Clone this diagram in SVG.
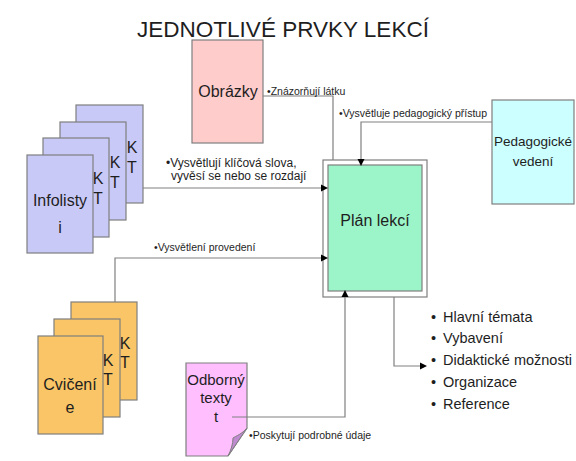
<svg xmlns="http://www.w3.org/2000/svg" width="576" height="461" viewBox="0 0 576 461">
<defs>
<path id="ah" d="M0,0 L-7,-3.5 L-7,3.5 Z" fill="#000"/>
<style>
text{font-family:"Liberation Sans",Arial,sans-serif;fill:#1e1e1e}
.pg{stroke:#7f7f7f;stroke-width:1.2}
.lav{fill:#c9c9f7}
.org{fill:#f9c566}
.big{font-size:16px;text-anchor:middle}
.lbl{font-size:10.5px}
.lbl12{font-size:12px}
.con{fill:none;stroke:#808080;stroke-width:1.2}
.li{font-size:14.5px}
</style>
</defs>
<rect width="576" height="461" fill="#fff"/>
<text x="283" y="37" font-size="22.5" text-anchor="middle">JEDNOTLIVÉ PRVKY LEKCÍ</text>

<g id="obrazky">
<rect x="192" y="40" width="71" height="103" fill="#ffcccc" class="pg"/>
<text class="big" x="228" y="97">Obrázky</text>
</g>

<g id="pedagogicke">
<rect x="492" y="100" width="82" height="104" fill="#ccffff" class="pg"/>
<text x="533" y="146" font-size="13.5" text-anchor="middle">Pedagogické</text>
<text x="533" y="166" font-size="13.5" text-anchor="middle">vedení</text>
</g>

<g id="plan">
<rect x="323" y="160" width="104" height="137" fill="#fff" class="pg"/>
<rect x="328" y="165" width="94" height="126" fill="#9cf5c9" class="pg"/>
<text class="big" x="375" y="226">Plán lekcí</text>
</g>

<g id="infolisty">
<rect x="76" y="105" width="67" height="98" class="pg lav"/>
<text class="big" x="132" y="153">K</text><text class="big" x="132" y="173">T</text>
<rect x="60" y="122" width="66" height="98" class="pg lav"/>
<text class="big" x="115" y="168">K</text><text class="big" x="115" y="188">T</text>
<rect x="43" y="138" width="66" height="99" class="pg lav"/>
<text class="big" x="98" y="184">K</text><text class="big" x="98" y="204">T</text>
<rect x="27" y="155" width="66" height="98" class="pg lav"/>
<text class="big" x="60" y="206">Infolisty</text>
<text class="big" x="60" y="233">i</text>
</g>

<g id="cviceni">
<rect x="71" y="302" width="66" height="98" class="pg org"/>
<text class="big" x="125" y="349">K</text><text class="big" x="125" y="368">T</text>
<rect x="54" y="319" width="66" height="98" class="pg org"/>
<text class="big" x="108" y="366">K</text><text class="big" x="108" y="385">T</text>
<rect x="38" y="336" width="65" height="98" class="pg org"/>
<text class="big" x="70" y="390">Cvičení</text>
<text class="big" x="70" y="413">e</text>
</g>

<g id="odborny">
<path d="M186,363 H247 V428 L228,456 H186 Z" fill="#ffbfff" class="pg"/>
<path d="M247,428 C242,434 236,436 233,438 C233,444 231,450 228,456 Z" fill="#c08ad0" stroke="#7f7f7f" stroke-width="1"/>
<text x="216" y="385" font-size="15" text-anchor="middle">Odborný</text>
<text x="216" y="403" font-size="15" text-anchor="middle">texty</text>
<text x="216" y="422" font-size="15" text-anchor="middle">t</text>
</g>

<g id="seznam">
<text class="li" x="431" y="322">•</text><text class="li" x="443" y="322">Hlavní témata</text>
<text class="li" x="431" y="343">•</text><text class="li" x="443" y="343">Vybavení</text>
<text class="li" x="431" y="365">•</text><text class="li" x="443" y="365">Didaktické možnosti</text>
<text class="li" x="431" y="387">•</text><text class="li" x="443" y="387">Organizace</text>
<text class="li" x="431" y="409">•</text><text class="li" x="443" y="409">Reference</text>
</g>

<g id="connectors">
<path class="con" d="M263,96 H333 V160"/>
<path class="con" d="M492,122 H361 V160"/>
<path class="con" d="M143,188 H322"/>
<path class="con" d="M115,302 V258 H322"/>
<path class="con" d="M232,417 H345 V297"/>
<path class="con" d="M394,297 V366 H421"/>
<use href="#ah" transform="translate(361,166) rotate(90)"/>
<use href="#ah" transform="translate(328,188)"/>
<use href="#ah" transform="translate(328,258)"/>
<use href="#ah" transform="translate(345,290) rotate(-90)"/>
<use href="#ah" transform="translate(427,366)"/>
<text class="lbl" x="267" y="95">•Znázorňují látku</text>
<text class="lbl" x="339" y="117">•Vysvětluje pedagogický přístup</text>
<text class="lbl12" x="166" y="167">•Vysvětlují klíčová slova,</text>
<text class="lbl12" x="171" y="180">vyvěsí se nebo se rozdají</text>
<text class="lbl" x="154" y="251">•Vysvětlení provedení</text>
<text class="lbl" x="249" y="439">•Poskytují podrobné údaje</text>
</g>
</svg>
